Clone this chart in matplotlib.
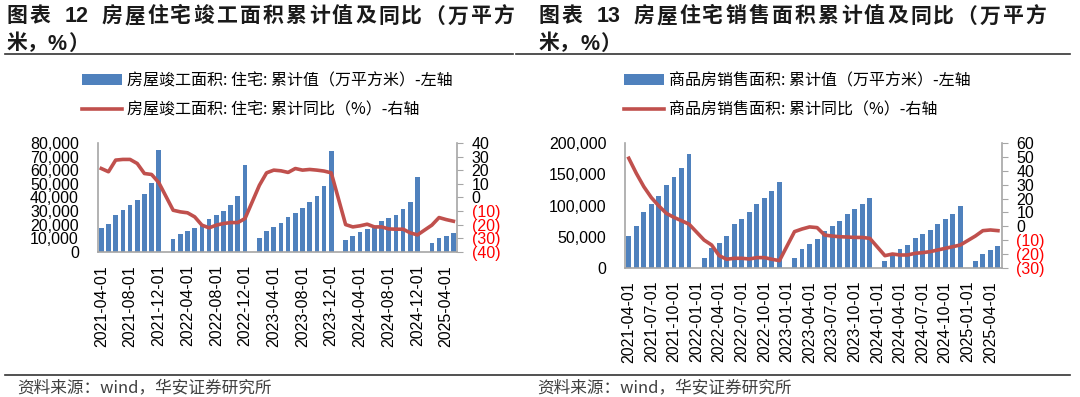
import numpy as np
import pandas as pd
import matplotlib
matplotlib.use("Agg")
import matplotlib.pyplot as plt
from matplotlib.lines import Line2D
from matplotlib.ticker import FuncFormatter

# =========================
# DONNÉES (NaN = janvier non publié)
# =========================
months = pd.date_range("2021-04-01", "2025-05-01", freq="MS").strftime("%Y-%m-%d").tolist()
nan = np.nan

# Graphique 12 : surface achevée, logement (万平方米) et variation (%)
completion_cum = [
    17300, 20500, 27200, 30900, 34700, 37900, 42600, 51000, 74800,
    nan, 9400, 12900, 15300, 17600, 20000, 24000, 27200, 30400, 34700, 41300, 63900,
    nan, 10400, 15100, 18100, 21000, 25500, 28700, 31900, 36400, 40800, 48800, 74000,
    nan, 8400, 11600, 14400, 16800, 19300, 22800, 25000, 27200, 31400, 36400, 55000,
    nan, 6700, 10100, 11900, 13900,
]
completion_yoy = [
    21.4, 19.0, 27.6, 28.1, 28.1, 25.1, 17.7, 17.0, 11.0,
    nan, -9.4, -10.6, -11.3, -14.3, -20.4, -22.4, -20.4, -19.2, -18.5, -18.5, -15.5,
    nan, 9.0, 18.2, 20.2, 19.7, 18.5, 21.4, 20.2, 20.7, 20.2, 19.5, 18.2,
    nan, -20.0, -21.7, -20.9, -19.7, -21.7, -21.7, -23.2, -23.4, -23.4, -26.1, -27.6,
    nan, -20.4, -14.8, -16.3, -17.5,
]

# Graphique 13 : surface vendue (万平方米) et variation (%)
sales_cum = [
    50900, 67000, 90100, 103000, 115800, 132400, 145300, 160300, 182300,
    nan, 16100, 31100, 40200, 50900, 69700, 78800, 89000, 102400, 112600, 122800, 137300,
    nan, 15000, 30000, 37500, 46600, 59500, 67000, 75100, 85800, 93800, 101900, 112600,
    nan, 10700, 21400, 29500, 36500, 48300, 54200, 61100, 70800, 78800, 86900, 98700,
    nan, 10200, 21400, 28400, 35400,
]
sales_yoy = [
    49.2, 38.3, 28.6, 20.7, 14.6, 9.3, 6.4, 4.0, 1.5,
    nan, -10.0, -13.6, -21.3, -23.9, -23.2, -23.2, -23.7, -22.7, -22.7, -23.9, -24.9,
    nan, -3.9, -2.0, -0.5, -1.0, -6.4, -7.1, -7.6, -7.8, -8.1, -8.1, -8.8,
    nan, -21.3, -20.1, -20.8, -20.8, -19.6, -19.1, -18.4, -17.2, -16.0, -14.8, -13.6,
    nan, -7.1, -3.2, -2.7, -3.2,
]

left_labels = ["房屋竣工面积: 住宅: 累计值（万平方米）-左轴", "房屋竣工面积: 住宅: 累计同比（%）-右轴"]
right_labels = ["商品房销售面积: 累计值（万平方米）-左轴", "商品房销售面积: 累计同比（%）-右轴"]

BLUE = "#4F81BD"
RED = "#C0504D"
GRAY = "#A6A6A6"
CJK = ["Noto Sans CJK SC", "DejaVu Sans"]

plt.rcParams["font.family"] = ["Liberation Sans", "Noto Sans CJK SC"]

W, H = 1080, 397
fig = plt.figure(figsize=(W / 100, H / 100), dpi=100)


def fx(px):
    return px / W


def fy(py):
    return 1 - py / H


# =========================
# FONCTIONS
# =========================

def panel(rect, cum, yoy, ymax, ystep, ylo, yhi, tick_every):
    ax = fig.add_axes(rect)
    x = np.arange(len(months))
    cum = np.array(cum, dtype=float)
    yoy = np.array(yoy, dtype=float)

    bars = ax.bar(x, cum, width=0.65, color=BLUE, zorder=2)
    ax.set_xlim(-0.5, len(months) - 0.5)
    ax.set_ylim(0, ymax)
    ax.set_yticks(np.arange(0, ymax + 1, ystep))
    ax.yaxis.set_major_formatter(FuncFormatter(lambda v, p: f"{int(v):,}"))
    ax.set_xticks(x[::tick_every])
    ax.set_xticklabels(months[::tick_every], rotation=90)
    ax.tick_params(axis="both", length=0, labelsize=11.5)
    ax.tick_params(axis="y", pad=13.5)
    ax.tick_params(axis="x", pad=9.5)
    for s in ["top", "right"]:
        ax.spines[s].set_visible(False)
    for s in ["left", "bottom"]:
        ax.spines[s].set_color(GRAY)
        ax.spines[s].set_linewidth(1.2)

    ax2 = ax.twinx()
    m = ~np.isnan(yoy)
    line, = ax2.plot(x[m], yoy[m], color=RED, lw=2.6, solid_joinstyle="round", zorder=3)
    ax2.set_ylim(ylo, yhi)
    ticks = np.arange(ylo, yhi + 1, 10)
    ax2.set_yticks(ticks)
    ax2.set_yticklabels([f"({abs(t)})" if t < 0 else f"{t}" for t in ticks])
    for lbl, t in zip(ax2.get_yticklabels(), ticks):
        if t < 0:
            lbl.set_color("#FF0000")
    ax2.tick_params(axis="y", length=4, color=GRAY, labelsize=11.5, pad=6.5)
    for s in ["top", "left", "bottom"]:
        ax2.spines[s].set_visible(False)
    ax2.spines["right"].set_color(GRAY)
    ax2.spines["right"].set_linewidth(1.2)
    return bars, line


def spaced(x, y, text, pitch, **kw):
    # place chaque caractère à pas fixe (titre espacé comme l'original)
    for i, ch in enumerate(text):
        fig.text(fx(x + i * pitch), fy(y), ch, **kw)


def title(x0, num, body):
    kw = dict(fontsize=15, fontweight="bold", color="#1A1A1A", va="baseline", family=CJK)
    num_kw = dict(fontsize=15.5, fontweight="bold", color="#1A1A1A", va="baseline",
                  family="Liberation Sans")
    spaced(x0, 22.5, "图表", 22.5, **kw)
    fig.text(fx(x0 + 58), fy(22.5), num, **num_kw)
    spaced(x0 + 94, 22.5, body, 23.1, **kw)
    fig.text(fx(x0), fy(49.5), "米，", **kw)
    fig.text(fx(x0 + 41), fy(49.5), "%", **num_kw)
    fig.text(fx(x0 + 61), fy(49.5), "）", **kw)


def hline(x0, x1, y, lw=1.2):
    fig.add_artist(Line2D([fx(x0), fx(x1)], [fy(y), fy(y)], color="#333333", lw=lw,
                          transform=fig.transFigure))


# =========================
# FIGURE
# =========================
b1, l1 = panel([fx(97.7), fy(251.7), fx(457) - fx(97.7), (251.7 - 143.3) / H],
               completion_cum, completion_yoy, 80000, 10000, -40, 40, 4)
b2, l2 = panel([fx(625), fy(267.7), fx(1001.7) - fx(625), (267.7 - 143.3) / H],
               sales_cum, sales_yoy, 200000, 50000, -30, 60, 3)

leg_kw = dict(loc="center left", frameon=False, borderpad=0, borderaxespad=0,
              prop={"family": CJK, "size": 11.5}, handlelength=2.5,
              handletextpad=0.3, labelspacing=0.8)
fig.legend([b1, l1], left_labels, bbox_to_anchor=(fx(82), fy(95.5)), **leg_kw)
fig.legend([b2, l2], right_labels, bbox_to_anchor=(fx(624), fy(95.5)), **leg_kw)

title(7, "12", "房屋住宅竣工面积累计值及同比（万平方")
title(539, "13", "房屋住宅销售面积累计值及同比（万平方")

hline(5, 513, 54)
hline(516, 1070, 54)
hline(5, 1070, 375)

src_kw = dict(fontsize=12, color="#404040", va="center", family=CJK)
fig.text(fx(17.5), fy(388), "资料来源：wind，华安证券研究所", **src_kw)
fig.text(fx(537), fy(388), "资料来源：wind，华安证券研究所", **src_kw)

fig.savefig("out.png", dpi=100)
